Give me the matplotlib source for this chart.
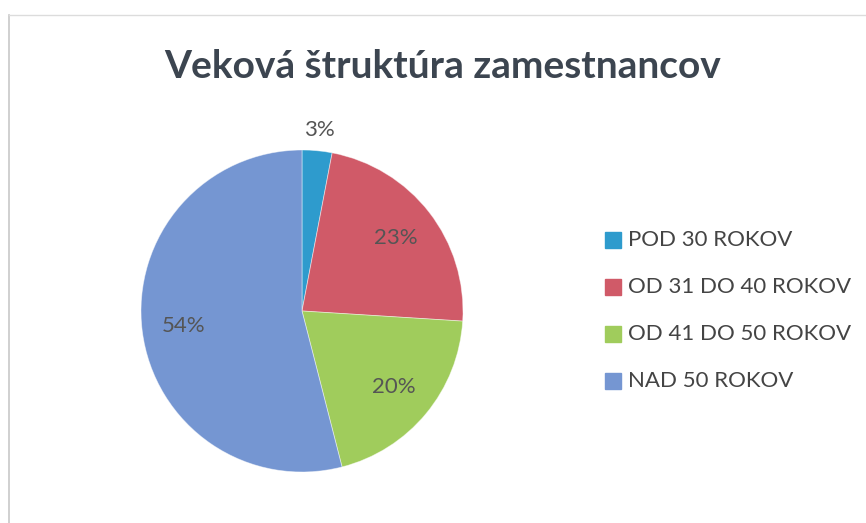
import matplotlib
matplotlib.use("Agg")
import matplotlib.pyplot as plt
import numpy as np

categories = ["POD 30 ROKOV", "OD 31 DO 40 ROKOV", "OD 41 DO 50 ROKOV", "NAD 50 ROKOV"]
values = [3, 23, 20, 54]
colors = ["#2E9BCD", "#D05A68", "#A0CC5C", "#7596D2"]
title = "Veková štruktúra zamestnancov"

W, H = 866, 523
fig = plt.figure(figsize=(W/100, H/100), dpi=100)
fig.patch.set_facecolor("white")
plt.rcParams['font.family'] = ['Lato', 'DejaVu Sans']

# frame lines
fig.add_artist(plt.Line2D([9/W, 9/W], [0, 1-15/H], color="#c8c8c8", lw=1.2))
fig.add_artist(plt.Line2D([9/W, 1], [1-15/H, 1-15/H], color="#dcdcdc", lw=1.0))

fig.text(443/W, 1-66/H, title, ha="center", va="center", fontsize=28,
         fontweight="bold", color="#3C4550")

cx, cy, r = 302, 311, 161
ax = fig.add_axes([(cx-r)/W, (H-cy-r)/H, 2*r/W, 2*r/H])
wedges, texts, autotexts = ax.pie(values, colors=colors, startangle=90, counterclock=False,
                                  autopct=lambda p: f"{p:.0f}%", pctdistance=0.74,
                                  wedgeprops=dict(linewidth=0.6, edgecolor="#ffffff80"),
                                  textprops=dict(fontsize=16, color="#555555"))
ax.set_xlim(-1, 1); ax.set_ylim(-1, 1)
ax.set_aspect("equal")
ax.axis("off")
# first small slice label outside
w0 = wedges[0]
ang = np.deg2rad((w0.theta1 + w0.theta2) / 2)
autotexts[0].set_position((1.13*np.cos(ang), 1.13*np.sin(ang)))

# legend
ys = [240, 287, 334, 381]
for lab, col, y in zip(categories, colors, ys):
    fig.patches.append(plt.Rectangle((605/W, 1-(y+8)/H), 16/W, 16/H, color=col,
                                     transform=fig.transFigure, figure=fig))
    fig.text(628/W, 1-y/H, lab, ha="left", va="center", fontsize=16, color="#444444")

fig.savefig("out.png", dpi=100)
